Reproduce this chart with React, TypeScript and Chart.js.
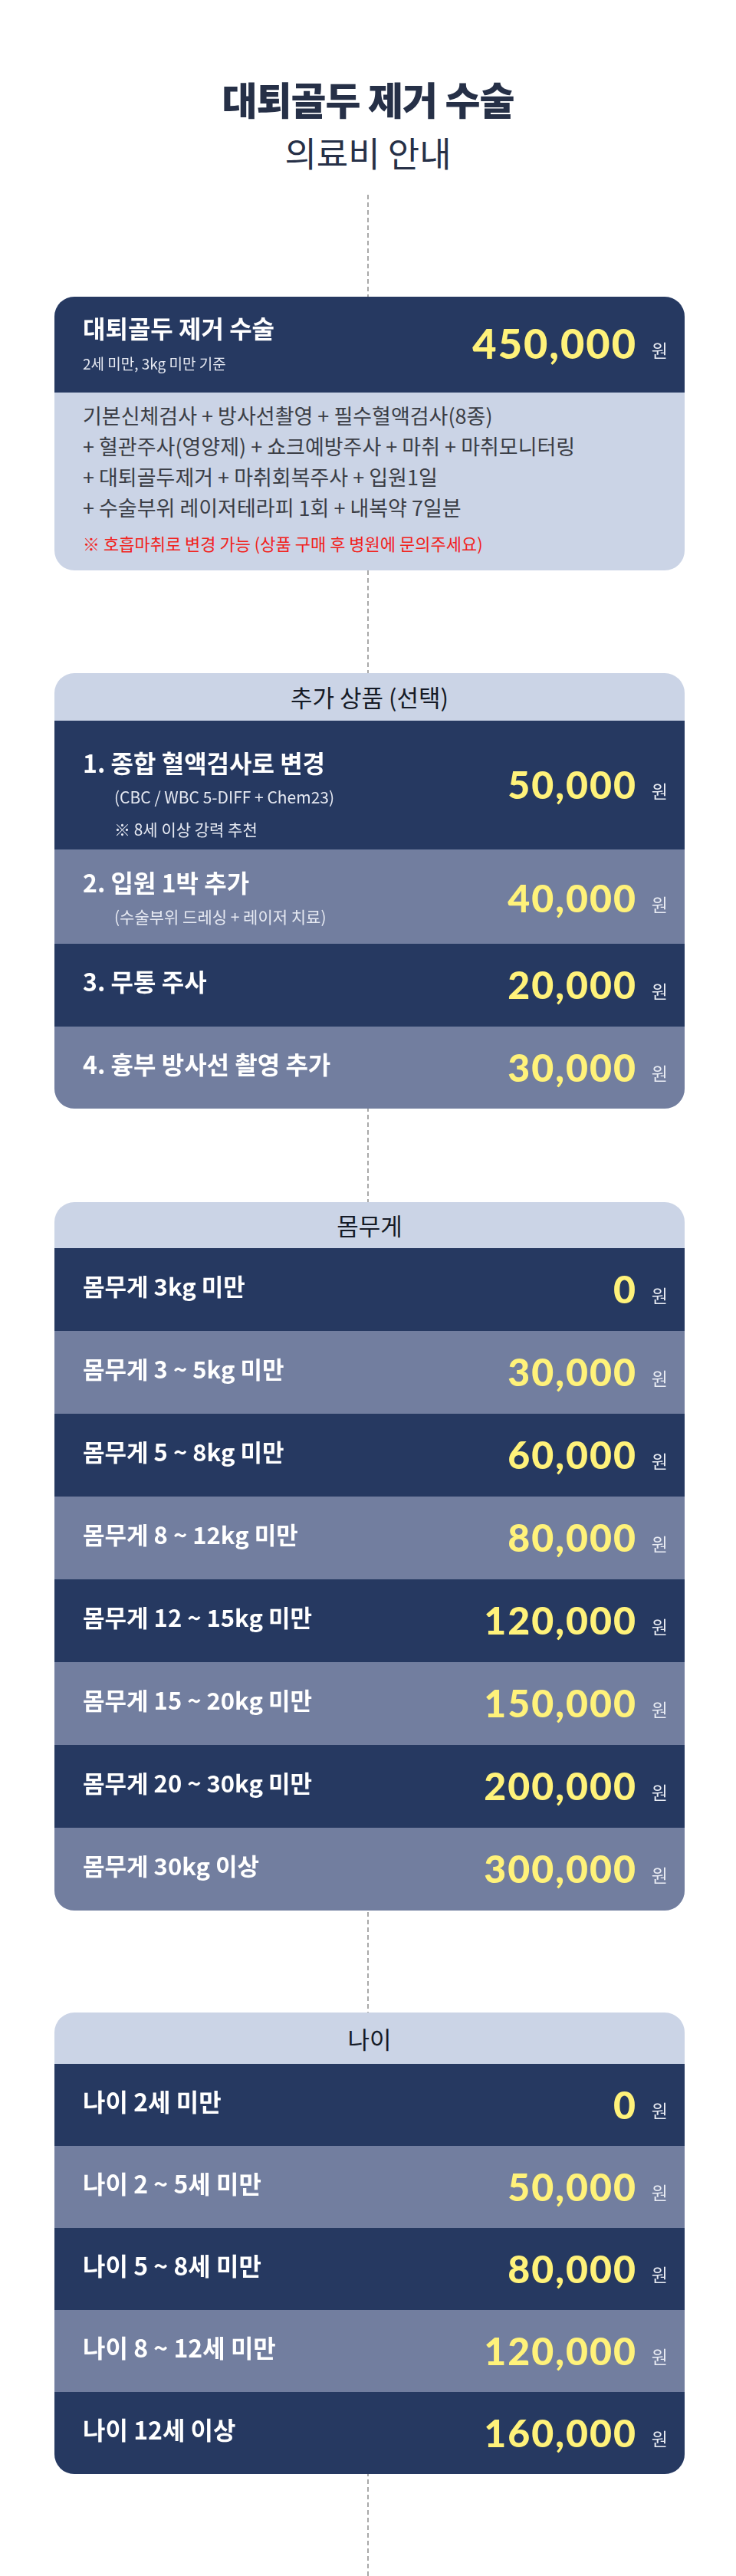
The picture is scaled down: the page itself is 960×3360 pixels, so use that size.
import { useEffect, useRef } from "react";
import { Chart, registerables } from "chart.js";

Chart.register(...registerables);

const NAVY = "#263961";
const SLATE = "#727e9f";
const PALE = "#cbd4e6";
const YELLOW = "#fff27a";
const KR = '"Noto Sans CJK KR", "Noto Sans", sans-serif';

// data
const baseTitle = "대퇴골두 제거 수술";
const baseNote = "2세 미만, 3kg 미만 기준";
const basePrice = 450000;
const baseItems = [
  "기본신체검사 + 방사선촬영 + 필수혈액검사(8종)",
  "+ 혈관주사(영양제) + 쇼크예방주사 + 마취 + 마취모니터링",
  "+ 대퇴골두제거 + 마취회복주사 + 입원1일",
  "+ 수술부위 레이저테라피 1회 + 내복약 7일분",
];
const baseWarn = "※ 호흡마취로 변경 가능 (상품 구매 후 병원에 문의주세요)";

const extraLabels = ["1. 종합 혈액검사로 변경", "2. 입원 1박 추가", "3. 무통 주사", "4. 흉부 방사선 촬영 추가"];
const extraSubs = [["(CBC / WBC 5-DIFF + Chem23)", "※ 8세 이상 강력 추천"], ["(수술부위 드레싱 + 레이저 치료)"], [], []];
const extraPrices = [50000, 40000, 20000, 30000];

const weightLabels = [
  "몸무게 3kg 미만", "몸무게 3 ~ 5kg 미만", "몸무게 5 ~ 8kg 미만", "몸무게 8 ~ 12kg 미만",
  "몸무게 12 ~ 15kg 미만", "몸무게 15 ~ 20kg 미만", "몸무게 20 ~ 30kg 미만", "몸무게 30kg 이상",
];
const weightPrices = [0, 30000, 60000, 80000, 120000, 150000, 200000, 300000];

const ageLabels = ["나이 2세 미만", "나이 2 ~ 5세 미만", "나이 5 ~ 8세 미만", "나이 8 ~ 12세 미만", "나이 12세 이상"];
const agePrices = [0, 50000, 80000, 120000, 160000];

type RowProps = {
  label: string;
  subs?: string[];
  price: number;
  height: number;
  color: string;
  labelSize?: number;
  priceSize?: number;
  labelY?: number;
  priceY?: number;
  subSize?: number;
  subIndent?: number;
  subGap?: number;
};

function PriceRow(p: RowProps) {
  const canvasRef = useRef<HTMLCanvasElement>(null);

  useEffect(() => {
    if (!canvasRef.current) return;
    const textPlugin = {
      id: "rowText",
      afterDatasetsDraw(chart: Chart) {
        const ctx = chart.ctx;
        const bar = chart.getDatasetMeta(0).data[0] as any;
        const top = bar.y - bar.height / 2;
        const h = bar.height;
        const left = chart.chartArea.left;
        const right = chart.chartArea.right;
        const subs = p.subs || [];
        ctx.save();
        ctx.textBaseline = "middle";
        ctx.fillStyle = "#ffffff";
        ctx.textAlign = "left";
        ctx.font = `700 ${p.labelSize || 31}px ${KR}`;
        const ly = p.labelY !== undefined ? top + p.labelY : top + h / 2 - 4;
        ctx.fillText(chart.data.labels![0] as string, left + 37, ly);
        ctx.font = `400 ${p.subSize || 21}px ${KR}`;
        ctx.fillStyle = "#e6e9f2";
        const gap = p.subGap || 44;
        subs.forEach((s, i) => ctx.fillText(s, left + (p.subIndent ?? 78), ly + gap + i * 42));
        const py = p.priceY !== undefined ? top + p.priceY : top + h / 2 + 2;
        ctx.textAlign = "right";
        ctx.fillStyle = "#e9ecf4";
        ctx.font = `400 23px ${KR}`;
        ctx.fillText("원", right - 22, py + 6);
        ctx.fillStyle = YELLOW;
        ctx.font = `900 ${p.priceSize || 50}px Lato, Roboto, sans-serif`;
        (ctx as any).letterSpacing = "2px";
        const v = chart.data.datasets[0].data[0] as number;
        ctx.fillText(v.toLocaleString("en-US"), right - 62, py);
        ctx.restore();
      },
    };
    const chart = new Chart(canvasRef.current, {
      type: "bar",
      data: {
        labels: [p.label],
        datasets: [{ data: [p.price], backgroundColor: p.color, barPercentage: 1, categoryPercentage: 1 }],
      },
      options: {
        indexAxis: "y",
        animation: false,
        responsive: false,
        maintainAspectRatio: false,
        events: [],
        layout: { padding: 0 },
        // every bar spans the whole row: the axis runs from 0 to the bar's own value
        scales: {
          x: { display: false, min: 0, max: Math.max(p.price, 1), grace: 0 },
          y: { display: false },
        },
        datasets: { bar: { minBarLength: 822 } },
        plugins: { legend: { display: false }, tooltip: { enabled: false } },
      },
      plugins: [textPlugin],
    });
    return () => chart.destroy();
  }, [p.label, p.price]);

  return <canvas ref={canvasRef} width={822} height={p.height} style={{ display: "block", width: 822, height: p.height }} />;
}

function Card({ top, title, headH, children }: { top: number; title: string; headH: number; children: any }) {
  return (
    <div style={{ position: "absolute", left: 71, top, width: 822, borderRadius: 26, overflow: "hidden", background: PALE }}>
      <div style={{ height: headH, lineHeight: headH + "px", textAlign: "center", fontSize: 31, color: "#151a26", fontFamily: KR }}>
        {title}
      </div>
      {children}
    </div>
  );
}

export default function App() {
  useEffect(() => {
    document.body.style.margin = "0";
  }, []);

  const extraHeights = [168, 123, 108, 107];

  return (
    <div style={{ position: "relative", width: 960, height: 3360, background: "#fff", overflow: "hidden", fontFamily: KR }}>
      <div style={{ position: "absolute", left: 479, top: 254, height: 3106, borderLeft: "2px dashed #a9a9a9" }} />
      <div style={{ position: "absolute", top: 92, width: 960, textAlign: "center", color: "#263047", fontSize: 50, fontWeight: 900, letterSpacing: -1 }}>
        {baseTitle}
      </div>
      <div style={{ position: "absolute", top: 166, width: 960, textAlign: "center", color: "#263047", fontSize: 45, fontWeight: 400 }}>
        의료비 안내
      </div>

      <div style={{ position: "absolute", left: 71, top: 387, width: 822, borderRadius: 26, overflow: "hidden", background: PALE }}>
        <PriceRow label={baseTitle} subs={[baseNote]} price={basePrice} height={125} color={NAVY}
          labelSize={32} labelY={42} priceY={64} priceSize={54} subSize={19} subIndent={37} subGap={46} />
        <div style={{ padding: "10px 0 16px 37px", color: "#3a3d45", fontSize: 27, lineHeight: "40px" }}>
          {baseItems.map((t) => <div key={t}>{t}</div>)}
          <div style={{ color: "#f1221c", fontSize: 22, marginTop: 6 }}>{baseWarn}</div>
        </div>
      </div>

      <Card top={878} title="추가 상품 (선택)" headH={62}>
        {extraLabels.map((l, i) => (
          <PriceRow key={l} label={l} subs={extraSubs[i]} price={extraPrices[i]} height={extraHeights[i]}
            color={i % 2 ? SLATE : NAVY} labelSize={32}
            labelY={i === 0 ? 56 : i === 1 ? 44 : undefined} priceY={i === 0 ? 86 : i === 1 ? 66 : undefined} />
        ))}
      </Card>

      <Card top={1568} title="몸무게" headH={60}>
        {weightLabels.map((l, i) => (
          <PriceRow key={l} label={l} price={weightPrices[i]} height={108} color={i % 2 ? SLATE : NAVY} />
        ))}
      </Card>

      <Card top={2625} title="나이" headH={67}>
        {ageLabels.map((l, i) => (
          <PriceRow key={l} label={l} price={agePrices[i]} height={107} color={i % 2 ? SLATE : NAVY} labelSize={32} />
        ))}
      </Card>
    </div>
  );
}
